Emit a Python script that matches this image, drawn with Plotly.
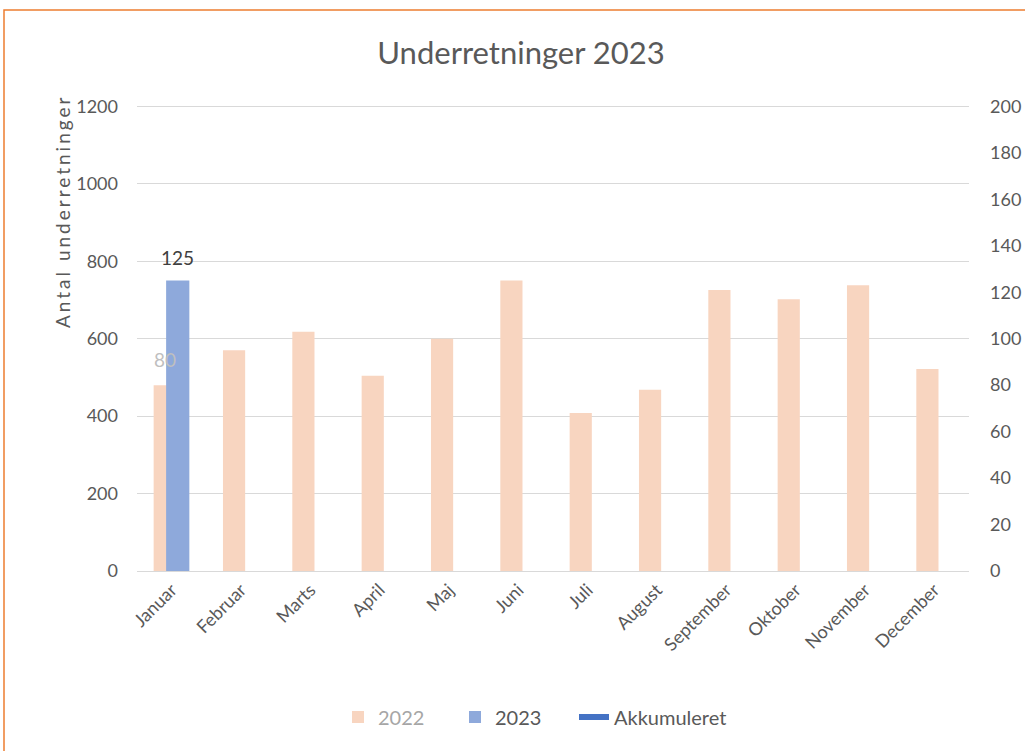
import plotly.graph_objects as go

months = ["Januar", "Februar", "Marts", "April", "Maj", "Juni", "Juli",
          "August", "September", "Oktober", "November", "December"]
values_2022 = [80, 95, 103, 84, 100, 125, 68, 78, 121, 117, 123, 87]
values_2023 = [125]
akkumuleret = [125]

FONT = "Lato"
GREY = "#595959"
idx = list(range(len(months)))

W, H = 1025, 751
L, R, T, B = 137, 56, 105, 180
plot_w = W - L - R
plot_h = H - T - B
PAD = 1.003  # tiny headroom so the top gridline is drawn

fig = go.Figure()
fig.add_trace(go.Bar(
    x=idx, y=values_2022, yaxis="y2", name="<span style='color:#A6A6A6'>2022</span>",
    marker=dict(color="#F8D5C0", line=dict(width=0)), width=0.32, offset=-0.26,
    legend="legend",
))
fig.add_trace(go.Bar(
    x=idx[:len(values_2023)], y=values_2023, yaxis="y2", name="2023",
    marker=dict(color="#8EA9DB", line=dict(width=0)), width=0.335, offset=-0.08,
    legend="legend",
))
fig.add_trace(go.Scatter(
    x=idx[:len(akkumuleret)], y=akkumuleret, yaxis="y", name="Akkumuleret",
    mode="lines", line=dict(color="#4472C4", width=6), legend="legend2",
))

# data labels
fig.add_annotation(x=-0.26 + 0.16, y=values_2022[0], xref="x", yref="y2",
                   text=str(values_2022[0]), showarrow=False, yshift=26,
                   font=dict(family=FONT, size=19, color="#BFBFBF"))
fig.add_annotation(x=-0.08 + 0.1675, y=values_2023[0], xref="x", yref="y2",
                   text=str(values_2023[0]), showarrow=False, yshift=23,
                   font=dict(family=FONT, size=19, color="#404040"))

# y axis title (placed like Excel, near the top)
fig.add_annotation(x=(62 - L) / plot_w, y=(H - B - 212) / plot_h, xref="paper", yref="paper",
                   text="<span style='letter-spacing:3px'>Antal underretninger</span>",
                   showarrow=False, textangle=-90, xanchor="center", yanchor="middle",
                   font=dict(family=FONT, size=19, color=GREY))

legend_y = (H - B - 717) / plot_h
fig.update_layout(
    width=W, height=H,
    margin=dict(l=L, r=R, t=T, b=B, autoexpand=False),
    paper_bgcolor="white", plot_bgcolor="white",
    barmode="overlay",
    font=dict(family=FONT, size=18, color=GREY),
    title=dict(text="Underretninger 2023", x=521 / W, xanchor="center", y=1 - 53 / H,
               yanchor="middle", xref="container", yref="container",
               font=dict(family=FONT, size=31, color=GREY)),
    xaxis=dict(tickmode="array", tickvals=idx, ticktext=months, range=[-0.5, 11.5],
               tickangle=-45, showgrid=False, showline=False, zeroline=False, automargin=False,
               tickfont=dict(family=FONT, size=18, color=GREY), ticklabelstandoff=4),
    yaxis=dict(range=[0, 1200 * PAD], tickmode="array", tickvals=list(range(0, 1201, 200)),
               showgrid=True, gridcolor="#D9D9D9", gridwidth=1.3,
               zeroline=True, zerolinecolor="#D9D9D9", zerolinewidth=1.3, showline=False,
               automargin=False,
               tickfont=dict(family=FONT, size=18, color=GREY), ticklabelstandoff=18),
    yaxis2=dict(range=[0, 200 * PAD], tickmode="array", tickvals=list(range(0, 201, 20)),
                overlaying="y", side="right", showgrid=False,
                zeroline=False, showline=False, automargin=False,
                tickfont=dict(family=FONT, size=18, color=GREY), ticklabelstandoff=20),
    legend=dict(orientation="h", x=(338 - L) / plot_w, xanchor="left",
                y=legend_y, yanchor="middle", entrywidth=72,
                font=dict(family=FONT, size=20, color=GREY), traceorder="normal"),
    legend2=dict(orientation="h", x=(574 - L) / plot_w, xanchor="left",
                 y=legend_y, yanchor="middle",
                 font=dict(family=FONT, size=20, color=GREY)),
    showlegend=True,
)

# orange outer border
fig.add_shape(type="rect", xref="paper", yref="paper",
              x0=(4 - L) / plot_w, x1=(1040 - L) / plot_w,
              y0=(H - B - 770) / plot_h, y1=(H - B - 10) / plot_h,
              line=dict(color="#ED7D31", width=1.5), fillcolor="rgba(0,0,0,0)", layer="below")

fig.write_html("out.html", config={"displayModeBar": False},
               post_script="document.body.style.margin='0';document.body.style.overflow='hidden';")
